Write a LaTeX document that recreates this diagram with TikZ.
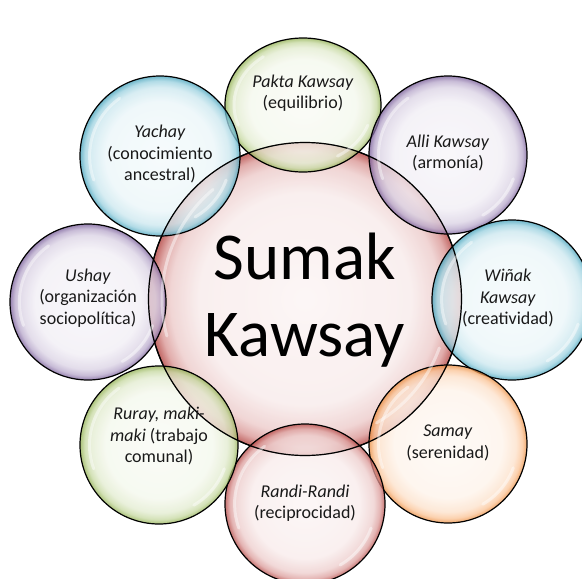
\documentclass[tikz,border=0pt]{standalone}
\usepackage{fontspec}
\setmainfont{Carlito}
\usetikzlibrary{shapes.geometric}

\definecolor{tgreen}{HTML}{9BBB59}
\definecolor{tpurple}{HTML}{8064A2}
\definecolor{taqua}{HTML}{4BACC6}
\definecolor{torange}{HTML}{F79646}
\definecolor{tred}{HTML}{C0504D}

\pgfdeclareradialshading[bubblecol]{bubble}{\pgfpointorigin}{%
  color(0bp)=(bubblecol!6!white); color(17bp)=(bubblecol!11!white);
  color(21.5bp)=(bubblecol!28!white); color(23.5bp)=(bubblecol!55!white);
  color(25bp)=(bubblecol!95!black); color(50bp)=(bubblecol!95!black)}
\colorlet{bubblecol}{white}

\tikzset{
  bubble/.style={circle, draw=black, line width=1.2pt, inner sep=0pt,
    /utils/exec={\colorlet{bubblecol}{#1}}, shade, shading=bubble,
    fill opacity=0.78},
  gloss/.style={white, line width=3pt, line cap=round, draw opacity=0.45},
  txt/.style={align=center, text=black!90, font=\fontsize{18}{21.5}\selectfont}
}

\begin{document}
\begin{tikzpicture}[x=1pt, y=-1pt]
\useasboundingbox (0,0) rectangle (582,579);

\node[bubble=tred, minimum size=313, fill opacity=0.85] (core) at (305,299) {};

\node[bubble=tgreen, ellipse, minimum width=156, minimum height=134] (pakta) at (303,105) {};
\node[bubble=tpurple, minimum size=158] (alli) at (448,155) {};
\node[bubble=taqua, minimum size=160] (winak) at (512,300) {};
\node[bubble=torange, minimum size=158] (samay) at (448,444) {};
\node[bubble=tred, minimum size=160] (randi) at (305,504) {};
\node[bubble=tgreen, minimum size=158] (ruray) at (159,445) {};
\node[bubble=tpurple, minimum size=156] (ushay) at (88,302) {};
\node[bubble=taqua, minimum size=160] (yachay) at (160,156) {};

\draw[black, line width=1.2pt] (core.center) circle[radius=156.5];

\draw[gloss] (core.center) ++(165:143) arc[start angle=165, end angle=230, radius=143];
\draw[gloss] (core.center) ++(20:143) arc[start angle=20, end angle=60, radius=143];
\draw[gloss] (pakta.center) ++(160:{69 and 59}) arc[start angle=160, end angle=235, x radius=69, y radius=59];
\draw[gloss] (pakta.center) ++(20:{69 and 59}) arc[start angle=20, end angle=60, x radius=69, y radius=59];
\foreach \n/\r in {alli/79, winak/80, samay/79, randi/80, ruray/79, ushay/78, yachay/80} {
  \draw[gloss] (\n.center) ++(160:{0.88*\r}) arc[start angle=160, end angle=235, radius={0.88*\r}];
  \draw[gloss] (\n.center) ++(20:{0.88*\r}) arc[start angle=20, end angle=60, radius={0.88*\r}];
}

\node[font=\fontsize{67}{77}\selectfont, align=center] (title) at (305,300) {Sumak\\Kawsay};

\node[txt] (paktatext) at (303,93) {\textit{Pakta Kawsay}\\(equilibrio)};
\node[txt] (allitext) at (448,153) {\textit{Alli Kawsay}\\(armonía)};
\node[txt] (winaktext) at (508,298) {\textit{Wiñak}\\\textit{Kawsay}\\(creatividad)};
\node[txt] (samaytext) at (448,443) {\textit{Samay}\\(serenidad)};
\node[txt] (randitext) at (305,503) {\textit{Randi-Randi}\\(reciprocidad)};
\node[txt] (ruraytext) at (159,436) {\textit{Ruray, maki-}\\\textit{maki} (trabajo\\comunal)};
\node[txt] (ushaytext) at (88,298) {\textit{Ushay}\\(organización\\sociopolítica)};
\node[txt] (yachaytext) at (160,154) {\textit{Yachay}\\(conocimiento\\ancestral)};
\end{tikzpicture}
\end{document}
